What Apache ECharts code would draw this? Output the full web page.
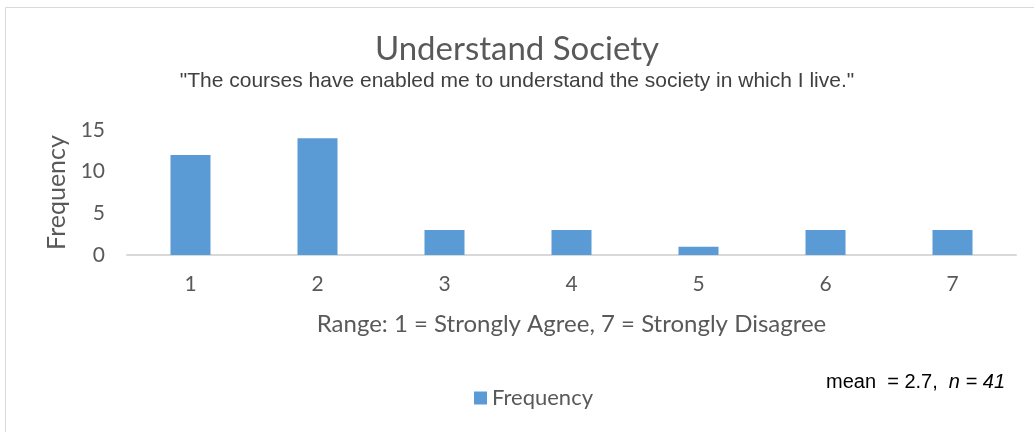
<!DOCTYPE html>
<html><head><meta charset="utf-8">
<script src="https://cdn.jsdelivr.net/npm/echarts@6/dist/echarts.min.js"></script>
<style>html,body{margin:0;padding:0;background:#fff}#c{width:1034px;height:432px}</style>
</head><body><div id="c"></div>
<script>
const categories = ['1','2','3','4','5','6','7'];
const frequency = [12, 14, 3, 3, 1, 3, 3];
const yTicks = {min: 0, max: 15, interval: 5};
const titleText = 'Understand Society';
const subtitleText = '"The courses have enabled me to understand the society in which I live."';
const xAxisName = 'Range: 1 = Strongly Agree, 7 = Strongly Disagree';
const yAxisName = 'Frequency';

const font = 'Lato, "Open Sans", sans-serif';
const chart = echarts.init(document.getElementById('c'));
chart.setOption({
  animation: false,
  title: {
    text: titleText, subtext: subtitleText, left: 'center', top: 28, itemGap: 5,
    textStyle: {fontFamily: font, fontSize: 33, fontWeight: 'normal', color: '#595959'},
    subtextStyle: {fontFamily: '"Liberation Sans", Arial, sans-serif', fontSize: 21, color: '#404040'}
  },
  legend: {
    data: ['Frequency'], left: 469, top: 382, itemWidth: 13, itemHeight: 13, icon: 'rect', itemGap: 6,
    textStyle: {fontFamily: font, fontSize: 22, color: '#595959'}
  },
  grid: {left: 127, right: 18, top: 130, bottom: 177},
  xAxis: {
    type: 'category', data: categories,
    axisLine: {lineStyle: {color: '#d9d9d9', width: 2}},
    axisTick: {show: false},
    axisLabel: {fontFamily: font, fontSize: 21, color: '#595959', margin: 19},
    name: xAxisName, nameLocation: 'middle', nameGap: 57,
    nameTextStyle: {fontFamily: font, fontSize: 24, color: '#595959'}
  },
  yAxis: {
    type: 'value', min: yTicks.min, max: yTicks.max, interval: yTicks.interval,
    splitLine: {show: false}, axisLine: {show: false}, axisTick: {show: false},
    axisLabel: {fontFamily: font, fontSize: 21, color: '#595959', margin: 22},
    name: yAxisName, nameLocation: 'middle', nameGap: 56, nameRotate: 90,
    nameTextStyle: {fontFamily: font, fontSize: 25, color: '#595959'}
  },
  series: [{
    name: 'Frequency', type: 'bar', data: frequency, barWidth: 40,
    itemStyle: {color: '#5b9bd5'}
  }],
  graphic: [
    {type: 'rect', left: 3, top: 5, shape: {width: 1040, height: 440}, silent: true, z: -10,
     style: {fill: 'none', stroke: '#d9d9d9', lineWidth: 1}},
    {type: 'text', left: 826, top: 372, style: {
      text: '{a|mean  = 2.7,  }{i|n = 41}',
      rich: {
        a: {fontFamily: '"Liberation Sans", Arial, sans-serif', fontSize: 20, fill: '#000'},
        i: {fontFamily: '"Liberation Sans", Arial, sans-serif', fontSize: 20, fontStyle: 'italic', fill: '#000'}
      }
    }}
  ]
});
</script></body></html>
